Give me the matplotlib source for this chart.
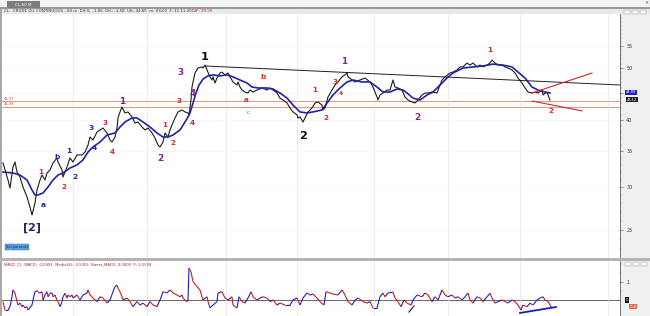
import matplotlib
matplotlib.use("Agg")
import matplotlib.pyplot as plt
from matplotlib.collections import LineCollection
from matplotlib.patches import Rectangle
from matplotlib.ticker import FixedLocator, NullFormatter
import numpy as np

# ---------------- data ----------------
bars = [3, 8, 10, 13, 15, 17, 20, 23, 27, 30, 32, 35, 37, 40, 42, 45, 47, 50, 53, 57, 58, 62, 63, 67, 70, 73, 77, 82, 85,
        88, 90, 93, 97, 100, 103, 107, 110, 112, 115, 117, 118, 120, 122, 125, 128, 132, 135, 138, 142, 145, 148, 152,
        155, 158, 160, 163, 165, 168, 170, 172, 175, 178, 182, 185, 188, 189, 191, 192, 193, 195, 198, 202, 203, 205,
        207, 210, 212, 213, 215, 217, 220, 222, 225, 228, 230, 233, 237, 238, 240, 242, 245, 248, 250, 253, 257, 262,
        267, 270, 273, 277, 280, 283, 287, 290, 293, 297, 298, 300, 303, 305, 308, 312, 315, 318, 322, 323, 325, 328,
        332, 335, 338, 342, 345, 347, 348, 352, 355, 360, 365, 370, 373, 377, 378, 380, 383, 387, 390, 393, 395, 398,
        402, 405, 408, 412, 415, 418, 422, 425, 428, 432, 437, 440, 442, 445, 450, 453, 457, 460, 463, 467, 470, 473,
        477, 480, 483, 487, 490, 492, 495, 498, 502, 505, 508, 512, 515, 518, 522, 525, 528, 532, 535, 538, 542, 543,
        547, 548, 550]
close = [33.31, 30.96, 29.91, 32.74, 33.45, 32.04, 31.36, 30.04, 28.78, 27.57, 26.64, 28.05, 29.66, 30.96, 31.63,
         30.96, 31.9, 32.32, 33.31, 34.03, 33.45, 32.32, 31.36, 32.74, 34.03, 33.45, 34.47, 34.47, 34.91, 35.97, 37.23,
         36.76, 38.04, 38.37, 38.7, 37.88, 36.76, 36.44, 37.23, 38.7, 40.4, 41.46, 42.35, 41.28, 41.46, 40.58, 39.54,
         39.71, 38.87, 38.37, 38.7, 37.88, 37.07, 35.97, 35.67, 36.44, 37.88, 37.23, 38.37, 39.2, 40.4, 41.46, 41.82,
         41.46, 41.28, 40.93, 43.64, 46.14, 47.15, 49.0, 50.06, 50.3, 50.06, 50.7, 49.64, 48.2, 47.55, 48.2, 46.94,
         47.96, 49.0, 49.2, 48.6, 49.0, 48.2, 47.15, 46.54, 47.15, 46.14, 45.55, 45.16, 44.97, 45.55, 45.16, 45.55,
         45.95, 45.55, 45.95, 45.55, 44.97, 44.0, 43.64, 43.08, 42.17, 41.46, 40.93, 40.4, 40.58, 39.71, 40.4, 41.46,
         42.17, 43.08, 43.27, 42.71, 41.82, 42.17, 44.2, 45.55, 46.54, 47.15, 48.2, 48.6, 49.0, 48.2, 47.55, 47.15,
         47.55, 47.96, 47.15, 46.14, 44.2, 43.64, 44.59, 44.97, 45.55, 45.55, 47.55, 46.14, 45.95, 45.55, 44.2, 43.64,
         43.27, 43.08, 43.64, 44.59, 44.97, 44.97, 45.16, 44.97, 46.54, 47.55, 48.2, 49.0, 49.2, 49.64, 50.3, 50.3,
         51.15, 50.7, 51.15, 50.3, 50.7, 50.3, 50.7, 51.15, 51.8, 51.15, 50.7, 50.7, 50.3, 50.06, 49.64, 49.0, 47.96,
         46.94, 45.95, 45.16, 44.97, 45.16, 44.97, 45.55, 44.59, 45.16, 44.59, 43.64]

ma_bars = [3, 13, 20, 27, 32, 35, 38, 43, 48, 53, 58, 63, 70, 77, 83, 88, 93, 100, 107, 115, 120, 125, 132, 137, 143,
           150, 157, 163, 168, 173, 180, 185, 188, 190, 193, 196, 199, 203, 208, 213, 220, 227, 233, 240, 247, 252,
           258, 267, 273, 280, 287, 293, 300, 307, 313, 322, 327, 333, 340, 347, 353, 362, 370, 377, 383, 390, 397,
           403, 407, 413, 420, 427, 433, 440, 447, 453, 463, 473, 483, 493, 503, 512, 518, 525, 532, 538, 545, 550]
ma_values = [32.04, 31.9, 31.63, 30.96, 29.66, 29.03, 29.03, 29.28, 30.04, 30.96, 31.63, 31.9, 32.6, 33.02, 33.74,
             34.91, 35.67, 36.44, 37.55, 37.88, 38.87, 39.71, 40.4, 40.4, 39.71, 38.87, 37.88, 37.23, 37.23, 37.55,
             38.37, 39.71, 40.58, 41.28, 43.08, 44.97, 46.54, 47.75, 48.4, 48.6, 48.4, 48.6, 48.2, 47.55, 46.94,
             46.14, 45.95, 45.95, 45.75, 44.97, 44.0, 42.71, 41.46, 41.28, 41.46, 41.82, 43.08, 44.59, 45.95, 47.15,
             47.55, 47.15, 47.15, 46.14, 45.16, 45.16, 45.75, 45.55, 44.97, 44.0, 43.64, 44.59, 45.16, 46.54, 47.96,
             49.0, 50.06, 50.3, 50.5, 50.9, 50.7, 50.3, 49.2, 47.96, 46.14, 45.55, 45.16, 44.97]

macd_bars = [3, 5, 8, 10, 12, 13, 15, 17, 18, 20, 22, 23, 25, 27, 28, 32, 33, 35, 37, 38, 40, 42, 43, 45, 47, 48, 50,
             52, 53, 55, 57, 58, 60, 62, 63, 65, 67, 68, 70, 72, 73, 77, 80, 83, 87, 88, 90, 92, 93, 97, 100, 103,
             107, 110, 113, 115, 117, 118, 120, 122, 123, 127, 130, 133, 137, 140, 143, 147, 150, 153, 157, 160, 162,
             163, 167, 170, 173, 177, 180, 182, 183, 185, 187, 188, 189, 191, 192, 193, 197, 200, 202, 203, 207, 208,
             210, 213, 217, 218, 222, 225, 228, 232, 233, 237, 239, 242, 245, 248, 251, 253, 257, 260, 263, 267, 270,
             273, 277, 280, 285, 290, 293, 297, 300, 303, 307, 310, 313, 317, 320, 324, 326, 330, 333, 338, 342, 345,
             348, 352, 355, 358, 363, 367, 370, 373, 377, 380, 383, 385, 388, 393, 395, 398, 401, 404, 407, 411, 413,
             417, 422, 425, 428, 432, 435, 438, 442, 445, 448, 452, 455, 458, 462, 465, 468, 470, 473, 477, 480, 483,
             487, 490, 492, 495, 498, 502, 505, 508, 512, 515, 518, 521, 523, 527, 530, 533, 537, 540, 543, 545, 548,
             552]
macd_values = [-0.09, -0.56, -0.56, -0.37, 0.18, 0.56, 0.39, -0.09, -0.28, -0.17, -0.37, -0.28, -0.44, -0.37, -0.56,
               -0.28, 0.0, 0.46, 0.52, 0.46, 0.39, 0.46, 0.0, 0.28, 0.46, 0.18, 0.37, 0.39, 0.18, 0.28, 0.0, -0.09,
               -0.37, -0.09, 0.18, 0.37, 0.11, 0.28, 0.18, 0.28, 0.11, 0.28, 0.0, 0.28, 0.39, 0.56, 0.28, 0.18, 0.11,
               -0.09, 0.18, 0.11, -0.17, 0.0, 0.46, 0.74, 0.83, 0.65, 0.46, 0.18, 0.0, 0.11, -0.09, -0.37, -0.09,
               -0.28, -0.17, -0.37, -0.09, -0.28, -0.37, 0.0, 0.28, 0.46, 0.39, 0.56, 0.39, 0.28, 0.18, 0.28, 0.11,
               0.0, -0.09, 0.0, 1.78, 1.57, 1.29, 1.02, 0.74, 0.56, 0.18, 0.0, 0.18, -0.09, -0.44, -0.28, -0.09, 0.39,
               0.46, 0.11, 0.0, 0.18, -0.28, -0.44, 0.18, -0.09, -0.17, 0.11, 0.46, 0.18, 0.0, 0.11, 0.18, 0.11, -0.09,
               0.0, -0.28, -0.17, -0.28, -0.28, 0.0, 0.11, -0.28, 0.11, 0.39, 0.28, 0.33, 0.11, -0.09, -0.28, 0.46,
               0.39, 0.33, 0.28, 0.56, 0.28, -0.09, -0.28, 0.0, 0.11, -0.09, -0.17, -0.09, -0.44, -0.44, 0.18, 0.39,
               0.18, 0.39, 0.44, 0.11, -0.09, -0.37, 0.0, -0.17, -0.28, 0.0, 0.28, 0.18, 0.39, 0.28, -0.09, 0.18, 0.0,
               0.56, 0.28, 0.18, 0.28, 0.11, 0.18, 0.0, 0.18, 0.39, 0.0, -0.17, 0.18, 0.11, -0.09, 0.18, 0.37, 0.11,
               -0.17, -0.09, 0.0, -0.09, -0.17, 0.0, -0.09, -0.28, -0.56, -0.28, -0.37, -0.17, -0.28, 0.0, 0.11, 0.18,
               0.0, -0.09, -0.46]

support_levels = [43.37, 42.39]
support_labels = ["43,37", "42,39"]
price_ticks = [25, 30, 35, 40, 45, 50, 55]
price_tick_labels = ["25", "30", "35", "40", "", "50", "55"]  # "45" is hidden under the price boxes
time_grid = [73, 147, 226, 297, 374, 448, 520, 608]

# trend lines: (bar0, price0, bar1, price1)
trend_black = (205, 50.5, 620, 46.54)
trend_red_up = (532, 44.97, 592, 49.0)
trend_red_dn = (532, 43.45, 582, 41.65)
macd_div_blue = (520, -0.72, 556, -0.39)
macd_div_black = (409, -0.67, 414, -0.33)

# wave labels: text, bar, price, kind
waves = [
    ("[2]", 32, 25.2, "big_navy"), ("a", 43, 27.8, "blue"), ("1", 41, 32.04, "red"), ("2", 64, 30.04, "red"),
    ("b", 57, 34.2, "blue"), ("1", 69, 35.1, "blue"), ("2", 75, 31.36, "blue"), ("3", 91, 38.7, "blue"),
    ("4", 94, 35.5, "blue"), ("3", 105, 39.5, "red"), ("4", 112, 34.9, "red"), ("1", 122, 43.45, "purple"),
    ("2", 160, 34.0, "purple"), ("1", 165, 39.2, "red"), ("2", 173, 36.3, "red"), ("3", 179, 43.45, "red"),
    ("4", 192, 39.5, "red"), ("3", 180, 49.2, "purple"), ("4", 193, 44.97, "purple"), ("1", 205, 52.48, "big_black"),
    ("a", 246, 43.64, "red"), ("b", 263, 48.2, "red"), ("c", 248, 41.3, "tiny_red"), ("2", 303, 37.39, "big_black"),
    ("1", 315, 45.55, "red"), ("2", 326, 40.4, "red"), ("3", 335, 47.15, "red"), ("4", 341, 44.97, "red_small"),
    ("1", 344, 51.37, "purple"), ("2", 417, 40.4, "purple"), ("1", 490, 54.08, "red"), ("2", 551, 41.65, "red"),
]

# ---------------- layout helpers ----------------
W, H = 650, 316


def rect(x0, y0, x1, y1):
    return [x0 / W, 1 - y1 / H, (x1 - x0) / W, (y1 - y0) / H]


fig = plt.figure(figsize=(W / 100, H / 100), dpi=100)
fig.patch.set_facecolor("white")


def frect(x0, y0, x1, y1, fc, ec="none", lw=0.0, z=-5):
    fig.patches.append(Rectangle((x0 / W, 1 - y1 / H), (x1 - x0) / W, (y1 - y0) / H,
                                 transform=fig.transFigure, facecolor=fc, edgecolor=ec, lw=lw, zorder=z))


def ftext(x, y, s, **kw):
    fig.text(x / W, 1 - y / H, s, **kw)


# window chrome
frect(0, 0, 650, 8, "#f3f3f3")
frect(0, 7.5, 650, 8.5, "#9a9a9a")
frect(7, 1, 40, 8, "#7d7d7d")
ftext(23, 4.6, "CL-60 M", fontsize=3.0, color="white", ha="center", va="center")
ftext(646, 3, "×", fontsize=3.5, color="#555555", ha="center", va="center")
frect(0, 8.5, 650, 14, "#e9e9e9")
frect(0, 8.5, 2, 316, "#a8a8a8", z=6)
ftext(4, 11.3, "CL - CRUDE OIL CONTINUOUS - 60 m  Dif.%  -1,06  Dif.: -1,58  Ult: 44,65  m: 03,00  F: 11.11.2016",
      fontsize=2.9, color="#303030", va="center")
ftext(196, 11.3, "P: 99,99", fontsize=2.9, color="#c03030", va="center")
for bx in (624, 632, 640):
    frect(bx, 9.5, bx + 6, 13.5, "#f8f8f8", ec="#909090", lw=0.3, z=6)

# right strips
frect(620, 14, 650, 316, "#f0f0f0")
frect(0, 257.5, 650, 261, "#b4b4b4", z=6)

# ---------------- main price panel ----------------
ax = fig.add_axes(rect(2, 14, 620, 257.5))
ax.set_xlim(2, 620)
ax.set_yscale("log")
ax.set_ylim(22.2, 63.12)
ax.set_facecolor("white")
for s in ("top", "left", "bottom"):
    ax.spines[s].set_visible(False)
ax.spines["right"].set_color("#606060")
ax.spines["right"].set_linewidth(0.6)

ax.yaxis.tick_right()
ax.yaxis.set_major_locator(FixedLocator(price_ticks))
ax.set_yticklabels(price_tick_labels)
ax.yaxis.set_minor_locator(FixedLocator(np.arange(23, 63, 1)))
ax.yaxis.set_minor_formatter(NullFormatter())
ax.tick_params(axis="y", which="major", labelsize=3.6, length=2.5, width=0.4, pad=2, colors="#404040")
ax.tick_params(axis="y", which="minor", length=1.3, width=0.3, colors="#707070")
ax.set_xticks(time_grid)
ax.tick_params(axis="x", length=0, labelbottom=False)
ax.grid(axis="x", color="#e4e4e4", lw=0.5)
for t in price_ticks:
    ax.axhline(t, color="#f2f2f2", lw=0.4, zorder=0)

for lvl, lab in zip(support_levels, support_labels):
    ax.axhline(lvl, color="#e0957a", lw=0.7, zorder=1)
    ax.text(4, lvl * 1.003, lab, fontsize=2.6, color="#b05030", va="bottom", ha="left")

ax.plot(bars, close, color="#152015", lw=0.8, zorder=3)
ax.plot(ma_bars, ma_values, color="#2222aa", lw=1.2, zorder=4)

for (x0, p0, x1, p1), col, lw in ((trend_black, "#202020", 0.7), (trend_red_up, "#d02828", 0.8),
                                  (trend_red_dn, "#d02828", 0.8)):
    ax.plot([x0, x1], [p0, p1], color=col, lw=lw, zorder=5, clip_on=False)

styles = {
    "red": dict(color="#d42a2a", fontsize=5.2, fontweight="bold"),
    "red_small": dict(color="#d42a2a", fontsize=4.2, fontweight="bold"),
    "tiny_red": dict(color="#d42a2a", fontsize=3.5),
    "blue": dict(color="#2323b4", fontsize=5.4, fontweight="bold"),
    "purple": dict(color="#7a2a82", fontsize=6.4, fontweight="bold"),
    "big_black": dict(color="#101010", fontsize=8.2, fontweight="bold"),
    "big_navy": dict(color="#1c2a6a", fontsize=8.0, fontweight="bold"),
}
for txt, bx, py, kind in waves:
    ax.text(bx, py, txt, ha="center", va="center", zorder=6, **styles[kind])

# price boxes on the right axis
ftext(631, 92.3, "44,89", fontsize=2.6, color="white", ha="center", va="center",
      bbox=dict(boxstyle="square,pad=0.15", fc="#2020d0", ec="none"))
ftext(632, 99.8, "43,12", fontsize=2.6, color="white", ha="center", va="center",
      bbox=dict(boxstyle="square,pad=0.15", fc="#202020", ec="none"))

# "Sal pulsante" button
ftext(17, 247, "Sal pulsante", fontsize=2.6, color="#10306a", ha="center", va="center",
      bbox=dict(boxstyle="square,pad=0.3", fc="#5aa0dc", ec="#3a70b0", lw=0.3))

# ---------------- MACD panel ----------------
mx = fig.add_axes(rect(2, 261, 620, 316))
mx.set_xlim(2, 620)
mx.set_ylim(-0.89, 2.17)
mx.set_facecolor("white")
for s in ("top", "left", "bottom"):
    mx.spines[s].set_visible(False)
mx.spines["right"].set_color("#606060")
mx.spines["right"].set_linewidth(0.6)
mx.yaxis.tick_right()
mx.set_yticks([1])
mx.set_yticklabels(["1"])
mx.yaxis.set_minor_locator(FixedLocator([0.5, 1.5, 2.0]))
mx.tick_params(axis="y", which="major", labelsize=3.6, length=2.5, width=0.4, pad=2, colors="#404040")
mx.tick_params(axis="y", which="minor", length=1.3, width=0.3, colors="#707070")
mx.set_xticks(time_grid)
mx.tick_params(axis="x", length=0, labelbottom=False)
mx.grid(axis="x", color="#e4e4e4", lw=0.5)
mx.axhline(0, color="#505050", lw=0.6, zorder=1)

mxy = np.column_stack([macd_bars, macd_values])
segs = np.stack([mxy[:-1], mxy[1:]], axis=1)
cols = ["#1c1cc8" if b >= a else "#c81c1c" for a, b in zip(macd_values[:-1], macd_values[1:])]
mx.add_collection(LineCollection(segs, colors=cols, linewidths=0.8, zorder=3))

for (x0, v0, x1, v1), col, lw in ((macd_div_blue, "#1c1cc8", 1.3), (macd_div_black, "#101010", 0.8)):
    mx.plot([x0, x1], [v0, v1], color=col, lw=lw, zorder=4)

ftext(4, 264.5, "MACD_CL  MACD: -0,5991  MediaSG: -0,5355  Banet_MACD: 0,0000  P: 1,5558",
      fontsize=2.7, color="#b02020", va="center")
ftext(627, 300, "0", fontsize=2.6, color="white", ha="center", va="center",
      bbox=dict(boxstyle="square,pad=0.25", fc="#151515", ec="none"))
ftext(633, 306.5, "-0,6", fontsize=2.6, color="white", ha="center", va="center",
      bbox=dict(boxstyle="square,pad=0.25", fc="#e06a5a", ec="none"))
for bx in (625, 633, 641):
    frect(bx, 262, bx + 6, 265.5, "#f8f8f8", ec="#909090", lw=0.3, z=6)

fig.savefig("out.png", dpi=100)
